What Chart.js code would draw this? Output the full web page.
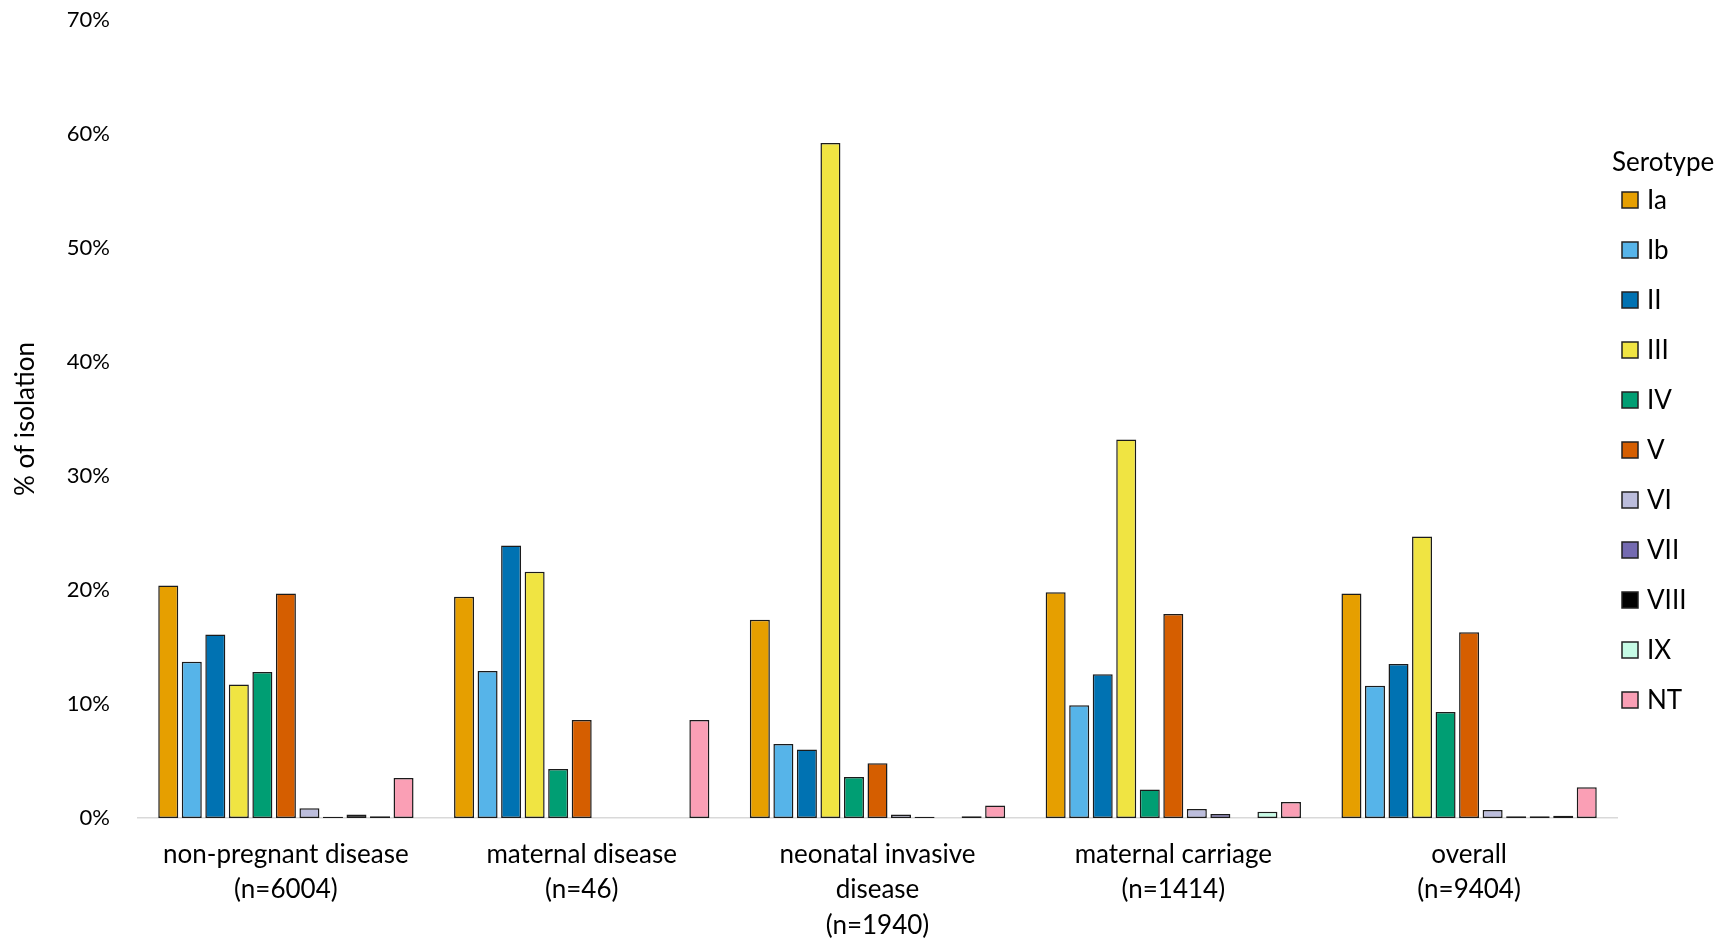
<!DOCTYPE html>
<html>
<head>
<meta charset="utf-8">
<script src="https://cdn.jsdelivr.net/npm/chart.js@4.4.1/dist/chart.umd.min.js"></script>
<style>
    html, body { margin: 0; padding: 0; background: #fff; }
</style>
</head>
<body>
<canvas id="serotype-chart" width="1734" height="944"></canvas>
<script>
// Categories on the x axis (multi-line labels)
const categories = [
    ['non-pregnant disease', '(n=6004)'],
    ['maternal disease', '(n=46)'],
    ['neonatal invasive', 'disease', '(n=1940)'],
    ['maternal carriage', '(n=1414)'],
    ['overall', '(n=9404)']
];

const serotypes = ['Ia', 'Ib', 'II', 'III', 'IV', 'V', 'VI', 'VII', 'VIII', 'IX', 'NT'];

// % of isolation, one value per category
const valuesIa   = [20.4, 19.4, 17.4, 19.8, 19.7];
const valuesIb   = [13.7, 12.9, 6.5, 9.9, 11.6];
const valuesII   = [16.1, 23.9, 6.0, 12.6, 13.5];
const valuesIII  = [11.7, 21.6, 59.2, 33.2, 24.7];
const valuesIV   = [12.8, 4.3, 3.6, 2.5, 9.3];
const valuesV    = [19.7, 8.6, 4.8, 17.9, 16.3];
const valuesVI   = [0.85, 0, 0.3, 0.8, 0.7];
const valuesVII  = [0.1, 0, 0.1, 0.35, 0.15];
const valuesVIII = [0.3, 0, 0, 0, 0.15];
const valuesIX   = [0.15, 0, 0.15, 0.55, 0.2];
const valuesNT   = [3.5, 8.6, 1.1, 1.4, 2.7];

const yTicks = [0, 10, 20, 30, 40, 50, 60, 70];

const seriesValues = [valuesIa, valuesIb, valuesII, valuesIII, valuesIV, valuesV,
                      valuesVI, valuesVII, valuesVIII, valuesIX, valuesNT];

const serotypeColors = ['#E69F00', '#56B4E9', '#0072B2', '#F0E442', '#009E73', '#D55E00',
                        '#BCBDDC', '#756BB1', '#000000', '#C6FBE5', '#FA9FB5'];

const FONT = 'Lato, "Open Sans", sans-serif';

// Legend drawn by hand so the title/box offsets match the original
const serotypeLegend = {
    id: 'serotypeLegend',
    afterDraw(chart) {
        const ctx = chart.ctx;
        const x0 = chart.chartArea.right - 5;
        ctx.save();
        ctx.font = '26px ' + FONT;
        ctx.textBaseline = 'middle';
        ctx.textAlign = 'left';
        ctx.fillStyle = '#000';
        ctx.fillText('Serotype', x0, 163);
        chart.data.datasets.forEach((ds, i) => {
            const y = 200 + i * 50;
            ctx.fillStyle = ds.backgroundColor;
            ctx.fillRect(x0 + 10, y - 8, 16, 16);
            ctx.strokeStyle = '#222';
            ctx.lineWidth = 1.5;
            ctx.strokeRect(x0 + 10, y - 8, 16, 16);
            ctx.fillStyle = '#000';
            ctx.fillText(ds.label, x0 + 35, y + 1);
        });
        ctx.restore();
    }
};

const ctx = document.getElementById('serotype-chart');

new Chart(ctx, {
    type: 'bar',
    data: {
        labels: categories,
        datasets: serotypes.map((name, i) => ({
            label: name,
            data: seriesValues[i],
            backgroundColor: serotypeColors[i],
            borderColor: '#1b1b1b',
            borderWidth: 1.5,
            borderSkipped: false,
            barPercentage: 0.85,
            categoryPercentage: 0.875
        }))
    },
    options: {
        responsive: false,
        animation: false,
        layout: {
            padding: { left: 0, right: 117, top: 20, bottom: 0 }
        },
        plugins: {
            legend: { display: false },
            tooltip: { enabled: false }
        },
        scales: {
            x: {
                grid: { display: false, drawTicks: false },
                border: { display: true, color: '#d9d9d9', width: 1.5 },
                ticks: {
                    color: '#000',
                    font: { family: FONT, size: 26, lineHeight: 1.36 },
                    padding: 19,
                    maxRotation: 0,
                    autoSkip: false
                },
                afterFit: (scale) => { scale.height = 126; }
            },
            y: {
                min: 0,
                max: 70,
                grid: { display: false, drawTicks: false },
                border: { display: false },
                afterBuildTicks: (scale) => {
                    scale.ticks = yTicks.map(v => ({ value: v }));
                },
                ticks: {
                    color: '#000',
                    font: { family: FONT, size: 22 },
                    padding: 28,
                    callback: (value) => value + '%'
                },
                title: {
                    display: true,
                    text: '% of isolation',
                    color: '#000',
                    font: { family: FONT, size: 26 },
                    padding: { top: 10, bottom: 0 }
                },
                afterFit: (scale) => {
                    // keep the plot edge where the original has it
                    scale.width = 138;
                    scale.paddingTop = 0;
                    scale.paddingBottom = 0;
                }
            }
        }
    },
    plugins: [serotypeLegend]
});
</script>
</body>
</html>
